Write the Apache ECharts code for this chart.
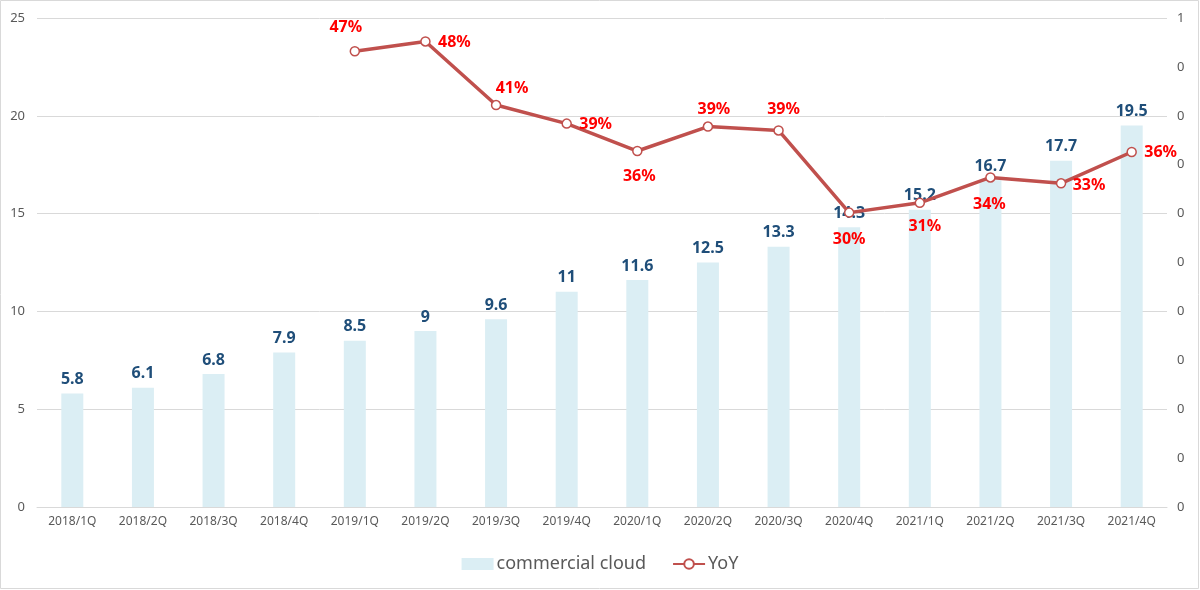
<!DOCTYPE html>
<html><head><meta charset="utf-8">
<script src="https://cdn.jsdelivr.net/npm/echarts@6/dist/echarts.min.js"></script>
<style>html,body{margin:0;padding:0;background:#fff}#c{width:1200px;height:590px}</style>
</head><body><div id="c"></div>
<script>
const categories = ['2018/1Q','2018/2Q','2018/3Q','2018/4Q','2019/1Q','2019/2Q','2019/3Q','2019/4Q','2020/1Q','2020/2Q','2020/3Q','2020/4Q','2021/1Q','2021/2Q','2021/3Q','2021/4Q'];
const cloudValues = [5.8, 6.1, 6.8, 7.9, 8.5, 9, 9.6, 11, 11.6, 12.5, 13.3, 14.3, 15.2, 16.7, 17.7, 19.5];
const yoyValues = [null, null, null, null, 0.466, 0.476, 0.411, 0.392, 0.364, 0.389, 0.385, 0.301, 0.311, 0.337, 0.331, 0.363];
const leftTicks = [0, 5, 10, 15, 20, 25];
// label placement offsets (presentation only)
const yoyLabelOffsets = [null,null,null,null,[-9,-24],[29,1],[16,-17],[29,1],[2,25],[6,-17],[5,-21],[0,27],[5,24],[-1,27],[28,2],[29,0]];

const font = '"Noto Sans", "Open Sans", sans-serif';
const chart = echarts.init(document.getElementById('c'));
chart.setOption({
  animation: false,
  textStyle: { fontFamily: font },
  graphic: [{ type: 'rect', shape: { x: 0.5, y: 0.5, width: 1198, height: 588 }, style: { fill: 'none', stroke: '#d9d9d9', lineWidth: 1 }, silent: true, z: -1 }],
  grid: { left: 37, right: 33, top: 18, bottom: 83, containLabel: false },
  legend: {
    bottom: 12, left: 'center', itemWidth: 32, itemHeight: 12, itemGap: 26,
    textStyle: { fontSize: 18, color: '#595959', fontFamily: font, padding: [0, 0, 0, -2] },
    data: [{ name: 'commercial cloud', icon: 'rect' }, { name: 'YoY' }]
  },
  xAxis: {
    type: 'category', data: categories,
    axisLine: { lineStyle: { color: '#d9d9d9' } },
    axisTick: { show: false },
    axisLabel: { color: '#595959', fontSize: 12, margin: 9, interval: 0 }
  },
  yAxis: [{
    type: 'value', min: leftTicks[0], max: leftTicks[leftTicks.length - 1], interval: 5,
    axisLine: { show: false }, axisTick: { show: false },
    axisLabel: { color: '#595959', fontSize: 13, margin: 12 },
    splitLine: { lineStyle: { color: '#d9d9d9' } }
  }, {
    type: 'value', min: 0, max: 0.5, interval: 0.05,
    axisLine: { show: false }, axisTick: { show: false },
    axisLabel: { color: '#595959', fontSize: 13, margin: 10, formatter: v => String(Math.round(v + 1e-9)) },
    splitLine: { show: false }
  }],
  series: [{
    name: 'commercial cloud', type: 'bar', data: cloudValues, barWidth: 22,
    itemStyle: { color: '#dbeef4' },
    label: { show: true, position: 'top', distance: 6, color: '#1f4e79', fontWeight: 'bold', fontSize: 16, fontFamily: font }
  }, {
    name: 'YoY', type: 'line', yAxisIndex: 1, connectNulls: false,
    data: yoyValues.map((v, i) => v == null ? null : ({
      value: v,
      label: { offset: yoyLabelOffsets[i] }
    })),
    lineStyle: { color: '#c0504d', width: 3.5 },
    itemStyle: { color: '#fff', borderColor: '#c0504d', borderWidth: 1.5 },
    symbol: 'circle', symbolSize: 9, z: 5,
    label: {
      show: true, position: 'inside', align: 'center', verticalAlign: 'middle',
      color: '#ff0000', fontWeight: 'bold', fontSize: 16, fontFamily: font,
      formatter: p => Math.round(p.value * 100) + '%'
    }
  }]
});
</script></body></html>
